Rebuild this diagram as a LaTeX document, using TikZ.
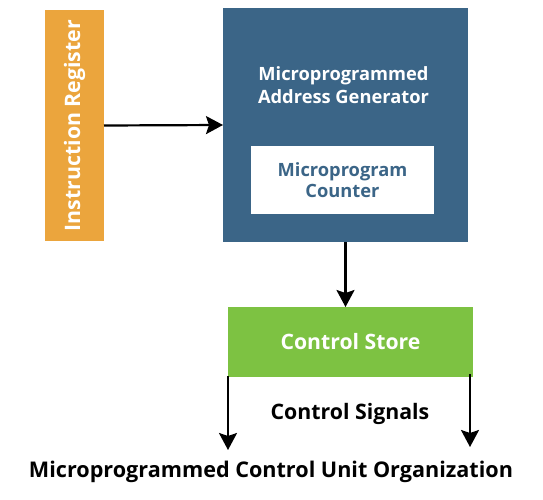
\documentclass[tikz,border=0pt]{standalone}
\usepackage{fontspec}
\setmainfont{Open Sans}
\usetikzlibrary{arrows.meta,positioning}
\definecolor{naranja}{HTML}{EBA53D}
\definecolor{azulgen}{HTML}{3B6587}
\definecolor{verde}{HTML}{7DC242}
\begin{document}
\begin{tikzpicture}[x=1pt,y=-1pt,>={Stealth[length=17pt,width=18pt,inset=3pt]},
  bloque/.style={inner sep=0pt,outer sep=0pt,text=white,font=\fontsize{18.3}{23}\selectfont\bfseries},
  flecha/.style={->,line width=2.2pt}]
  \useasboundingbox (0,0) rectangle (543,500);
  % bloques
  \node[bloque,fill=naranja,minimum width=59pt,minimum height=231pt] (ir) at (74.5,125.5)
        {\rotatebox{90}{\fontsize{21.3}{24}\selectfont Instruction Register}};
  \node[bloque,fill=azulgen,minimum width=245pt,minimum height=234pt] (gen) at (345.5,125) {};
  \node[bloque,align=center] (genlbl) at (343.5,85) {Microprogrammed\\Address Generator};
  \node[bloque,fill=white,text=azulgen,align=center,minimum width=183pt,minimum height=68pt,
        font=\fontsize{18.3}{21}\selectfont\bfseries]
        (pc) at (342.5,180) {Microprogram\\Counter};
  \node[bloque,fill=verde,minimum width=245pt,minimum height=70pt,font=\fontsize{21.2}{24}\selectfont\bfseries]
        (cs) at (350.5,342) {Control Store};
  % salidas
  \coordinate (outL) at (228,450);
  \coordinate (outR) at (470,447);
  % conexiones
  \draw[flecha] (ir.east) -- (gen.west);
  \draw[flecha] (gen.south) -- (gen.south |- cs.north);
  \draw[flecha] (cs.south west) ++(0,-1) -- (outL);
  \draw[flecha] (cs.south east) ++(-3,-3) -- (outR);
  \node[font=\fontsize{21.3}{24}\selectfont\bfseries] (signals) at (350,414) {Control Signals};
  \node[font=\fontsize{21.6}{25}\selectfont\bfseries] (title) at (271,472)
        {Microprogrammed Control Unit Organization};
\end{tikzpicture}
\end{document}
